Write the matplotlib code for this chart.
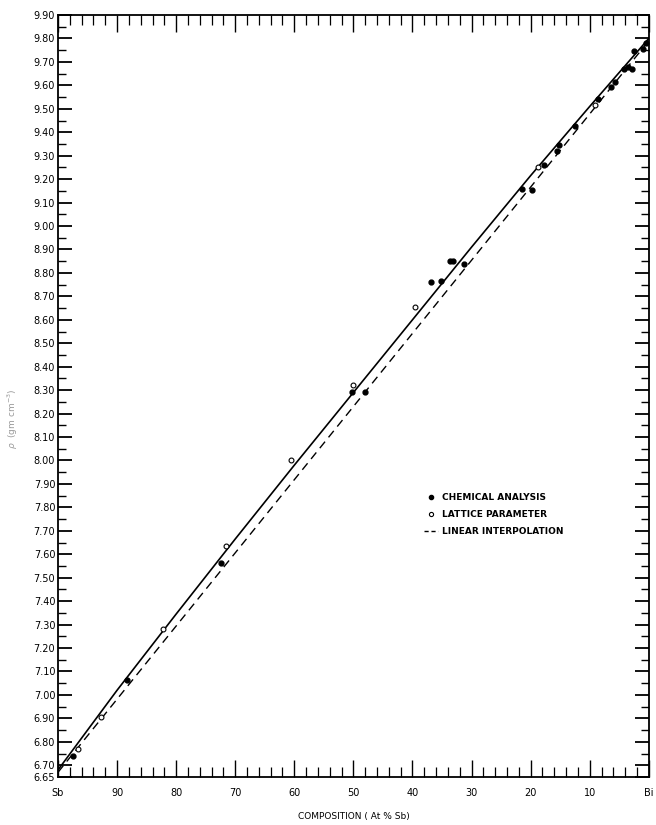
import numpy as np
import matplotlib
matplotlib.use("Agg")
import matplotlib.pyplot as plt
from matplotlib.lines import Line2D

# composition in at % Sb, density values
line_x = [100, 90, 80, 70, 60, 50, 40, 30, 20, 10, 0]
solid_y = [6.68, 7.02, 7.345, 7.665, 7.98, 8.29, 8.60, 8.91, 9.215, 9.51, 9.80]
dash_x = [100, 0]
dash_y = [6.67, 9.79]

chem_x = [97.4, 88.4, 72.4, 50.3, 48.1, 36.9, 35.1, 33.7, 33.2, 31.3, 21.5, 19.7,
          17.7, 15.5, 15.2, 12.5, 8.6, 6.4, 5.8, 4.2, 3.6, 2.8, 2.5, 1.0, 0.5]
chem_y = [6.74, 7.064, 7.564, 8.29, 8.29, 8.762, 8.765, 8.85, 8.85, 8.84, 9.16, 9.155,
          9.26, 9.32, 9.345, 9.425, 9.54, 9.595, 9.615, 9.67, 9.68, 9.67, 9.745, 9.755, 9.78]

latt_x = [96.6, 92.8, 82.2, 71.6, 60.5, 50.1, 39.5, 18.8, 9.1]
latt_y = [6.768, 6.907, 7.28, 7.636, 8.0, 8.322, 8.653, 9.253, 9.516]

x_major = [100, 90, 80, 70, 60, 50, 40, 30, 20, 10, 0]
x_labels = ["Sb", "90", "80", "70", "60", "50", "40", "30", "20", "10", "Bi"]

fig = plt.figure(figsize=(6.56, 8.25), dpi=100)
ax = fig.add_axes([0.0884, 0.0582, 0.9006, 0.9236])

ax.plot(line_x, solid_y, color="black", lw=1.2)
ax.plot(dash_x, dash_y, color="black", lw=1.0, dashes=(6, 4))
ax.plot(chem_x, chem_y, "o", color="black", ms=3.5, ls="none")
ax.plot(latt_x, latt_y, "o", mfc="white", mec="black", mew=0.8, ms=3.5, ls="none")

ax.set_xlim(100, 0)
ax.set_ylim(6.65, 9.90)

ax.set_xticks(x_major)
ax.set_xticklabels(x_labels)
ax.set_xticks(np.arange(0, 101, 2), minor=True)
yt = np.round(np.arange(6.70, 9.901, 0.10), 2)
ax.set_yticks(list(yt) + [6.65])
ax.set_yticklabels(["%.2f" % v for v in yt] + ["6.65"])
ax.set_yticks(np.arange(6.65, 9.91, 0.05), minor=True)

ax.tick_params(axis="x", which="major", direction="in", length=12, width=1.0,
               top=True, labelsize=7, pad=8)
ax.tick_params(axis="x", which="minor", direction="in", length=7, width=0.9, top=True)
ax.tick_params(axis="y", which="major", direction="in", length=10, width=1.3,
               right=True, labelsize=7, pad=2)
ax.tick_params(axis="y", which="minor", direction="in", length=6, width=1.0, right=True)
for s in ax.spines.values():
    s.set_linewidth(1.3)

ax.set_xlabel("COMPOSITION ( At % Sb)", fontsize=6.5, labelpad=10)
ax.set_ylabel(r"$\rho$  (gm cm$^{-3}$)", fontsize=6.5, color="#999999", labelpad=12)
ax.yaxis.set_label_coords(-0.065, 0.47)

handles = [
    Line2D([], [], marker="o", color="black", ms=3, ls="none"),
    Line2D([], [], marker="o", mfc="white", mec="black", mew=0.8, ms=3, ls="none"),
    Line2D([], [], color="black", lw=1.0, dashes=(3, 2)),
]
ax.legend(handles, ["CHEMICAL ANALYSIS", "LATTICE PARAMETER", "LINEAR INTERPOLATION"],
          loc="center left", bbox_to_anchor=(0.605, 0.344), frameon=False,
          prop={"size": 6.5, "weight": "bold"}, handlelength=1.6, handletextpad=0.4,
          labelspacing=0.9)

fig.savefig("out.png", dpi=100)
